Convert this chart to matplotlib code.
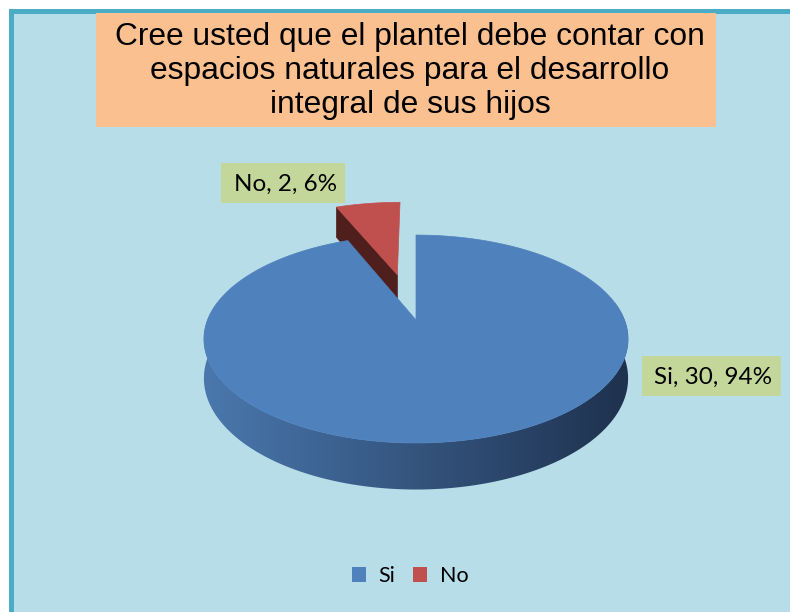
import numpy as np
import matplotlib.pyplot as plt
from matplotlib.patches import Rectangle, Polygon, Patch
from matplotlib.colors import LinearSegmentedColormap

# datos
categorias = ["Si", "No"]
valores = [30, 2]
colores = ["#4F81BD", "#C0504D"]
colores_lado = ["#1F3250", "#4F1F1E"]
titulo = "Cree usted que el plantel debe contar con\nespacios naturales para el desarrollo\nintegral de sus hijos"

W, H = 790, 612
fig = plt.figure(figsize=(W / 100, H / 100), dpi=100)
ax = fig.add_axes([0, 0, 1, 1])
ax.set_xlim(0, W)
ax.set_ylim(H, 0)
ax.axis("off")

# fondo y borde (solo arriba e izquierda, el resto queda fuera del recorte)
ax.add_patch(Rectangle((10.5, 10.5), W, H, facecolor="#B7DDE8", lw=0, zorder=0))
ax.plot([10.5, 10.5, W + 5], [H + 5, 10.5, 10.5], color="#4BACC6", lw=3.6,
        solid_joinstyle="miter", zorder=0.5)

# caja del titulo
ax.add_patch(Rectangle((96, 13), 620, 114, facecolor="#FAC090", lw=0, zorder=1))
ax.text(410, 71, titulo, ha="center", va="center", fontsize=22.9,
        family="Liberation Sans", linespacing=1.17, zorder=2)

# pastel 3D con perspectiva (proyeccion simple)
cx, cy = 416, 320
A, B, k = 208.5, 100.5, 0.183
alto = 38


def proj(u, w, z=0.0):
    v = -np.asarray(w)
    den = 1 - k * v
    return cx + A * np.asarray(u) / den, cy + B * v / den + z / den


total = sum(valores)
fracs = [v / total for v in valores]
# excel: empieza a las 12 y gira en sentido horario
inicio = 90.0
rangos = []
a = inicio
for f in fracs:
    rangos.append((a - f * 360, a))
    a -= f * 360

# ---- porcion "No" (separada, al fondo)
t0, t1 = rangos[1]
t0 += 360
t1 += 360
mid = np.radians((t0 + t1) / 2)
d = 0.5
ou, ow = d * np.cos(mid), d * np.sin(mid)
ang = np.radians(np.linspace(t0, t1, 30))
ru, rw = ou + np.cos(ang), ow + np.sin(ang)
# cara de corte visible (lado izquierdo, angulo mayor)
ax0, ay0 = proj(ou, ow)
ax0b, ay0b = proj(ou, ow, alto)
rx, ry = proj(ru[-1], rw[-1])
rxb, ryb = proj(ru[-1], rw[-1], alto)
ax.add_patch(Polygon([(ax0, ay0), (rx, ry), (rxb, ryb), (ax0b, ay0b)],
                     facecolor=colores_lado[1], edgecolor=colores_lado[1], lw=0.5, zorder=3))
px, py = proj(ru, rw)
ax.add_patch(Polygon(np.column_stack([np.r_[ax0, px], np.r_[ay0, py]]),
                     facecolor=colores[1], edgecolor=colores[1], lw=0.5, zorder=4))

# ---- porcion "Si"
s0, s1 = rangos[0]
# lado curvo frontal con degradado horizontal
ths = np.radians(np.linspace(-190, 10, 300))
tx, ty = proj(np.cos(ths), np.sin(ths))
bx, by = proj(np.cos(ths), np.sin(ths), alto)
banda = Polygon(np.column_stack([np.r_[tx, bx[::-1]], np.r_[ty, by[::-1]]]),
                facecolor="none", lw=0, zorder=5)
ax.add_patch(banda)
cmap_lado = LinearSegmentedColormap.from_list("lado", ["#4A78AE", "#1E314E"])
x_min, x_max = tx.min(), tx.max()
grad = np.linspace(0, 1, 256)[None, :]
im = ax.imshow(grad, cmap=cmap_lado, aspect="auto", interpolation="bilinear",
               extent=[x_min - 2, x_max + 2, by.max() + 2, ty.min() - 2], zorder=5)
im.set_clip_path(banda)
ax.set_xlim(0, W)
ax.set_ylim(H, 0)

ang = np.radians(np.linspace(s0, s1, 400))
px, py = proj(np.cos(ang), np.sin(ang))
ox, oy = proj(0, 0)
ax.add_patch(Polygon(np.column_stack([np.r_[ox, px], np.r_[oy, py]]),
                     facecolor=colores[0], edgecolor=colores[0], lw=0.5, zorder=6))

# etiquetas de datos
verde = "#C4D79B"
etiquetas = [f"{c}, {v}, {round(f * 100)}%" for c, v, f in zip(categorias, valores, fracs)]
ax.add_patch(Rectangle((642, 356), 139, 40, facecolor=verde, lw=0, zorder=7))
ax.text(713, 377, etiquetas[0], ha="center", va="center", fontsize=17.5, family="Lato", zorder=8)
ax.add_patch(Rectangle((221, 163), 124, 40, facecolor=verde, lw=0, zorder=7))
ax.text(286, 184, etiquetas[1], ha="center", va="center", fontsize=17.5, family="Lato", zorder=8)

# leyenda
handles = [Patch(facecolor=c, edgecolor="none", label=l) for c, l in zip(colores, categorias)]
leg = fig.legend(handles=handles, loc="center", bbox_to_anchor=(410 / W, 1 - 576 / H), ncol=2,
                 frameon=False, handlelength=0.65, handleheight=0.65, handletextpad=0.6,
                 columnspacing=0.8, prop={"family": "Lato", "size": 15.5})

fig.savefig("out.png", dpi=100)
